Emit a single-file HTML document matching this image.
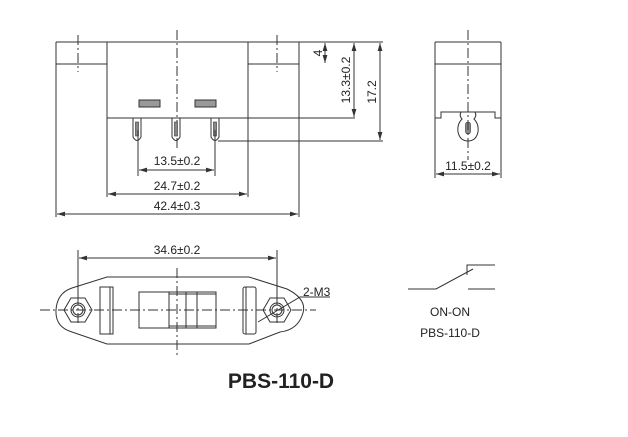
<!DOCTYPE html>
<html><head><style>html,body{margin:0;padding:0;background:#fff}svg{display:block}text{font-family:"Liberation Sans",Arial,sans-serif;fill:#222}</style></head><body>
<svg width="628" height="437" viewBox="0 0 628 437" xmlns="http://www.w3.org/2000/svg">
<defs>
<marker id="a" viewBox="0 0 10 6" refX="10" refY="3" markerWidth="8" markerHeight="5" orient="auto-start-reverse"><path d="M0,0L10,3L0,6z" fill="#333"/></marker>
</defs>
<g stroke="#333" stroke-width="1" fill="none">
<path d="M56,42H299M56,42V217M299,42V217M56,64H107M248,64H299M107,42V197M248,42V197M107,118H355"/>
<path d="M299,42H383M218,141H383"/>
<g stroke-dasharray="10,3,2,3"><path d="M177,30V150M78,35V72M277,35V72"/></g>
<rect x="139" y="100" width="21" height="7" fill="#999"/>
<rect x="195" y="100" width="21" height="7" fill="#999"/>
<g>
<path d="M133,118V137Q137,144 141,137V118"/><rect x="135.5" y="122" width="3" height="14" fill="#888" stroke-width="0.6"/>
<path d="M172,118V137Q176,144 180,137V118"/><rect x="174.5" y="122" width="3" height="14" fill="#888" stroke-width="0.6"/>
<path d="M211,118V137Q215,144 219,137V118"/><rect x="213.5" y="122" width="3" height="14" fill="#888" stroke-width="0.6"/>
</g>
<path d="M138,130V176M215,130V176"/>
<path d="M139,170H214" marker-start="url(#a)" marker-end="url(#a)"/>
<path d="M108,194H247" marker-start="url(#a)" marker-end="url(#a)"/>
<path d="M57,214H298" marker-start="url(#a)" marker-end="url(#a)"/>
<path d="M325,43V63" marker-start="url(#a)" marker-end="url(#a)"/>
<path d="M354,43V117" marker-start="url(#a)" marker-end="url(#a)"/>
<path d="M380,43V140" marker-start="url(#a)" marker-end="url(#a)"/>
<path d="M435,42H501M435,42V178M501,42V178M435,64H501M435,118H441V112H495V118H501"/>
<path d="M461,112Q459,116 462,119Q457,124 458,132Q460,141 468,141Q476,141 478,132Q479,124 474,119Q477,116 475,112"/>
<rect x="465.5" y="122" width="5" height="12" rx="2.5" fill="#888" stroke-width="0.6"/>
<path d="M468,30V160" stroke-dasharray="10,3,2,3"/>
<path d="M436,174H500" marker-start="url(#a)" marker-end="url(#a)"/>
<path d="M78,250V300M277,250V300"/>
<path d="M79,258H276" marker-start="url(#a)" marker-end="url(#a)"/>
<path d="M107,277H249L287,289Q307,299 303,313Q298,330 280,332L249,344H107L72,332Q55,327 56,310Q57,293 72,288Z"/>
<polygon points="92,310 85,322 71,322 64,310 71,298 85,298"/>
<circle cx="78" cy="310" r="7"/><circle cx="78" cy="310" r="5"/>
<polygon points="291,310 284,322 270,322 263,310 270,298 284,298"/>
<circle cx="277" cy="310" r="7"/><circle cx="277" cy="310" r="5"/>
<rect x="100" y="287" width="13" height="47"/><path d="M110,287V334"/>
<rect x="243" y="287" width="13" height="47" rx="2"/><path d="M246,287V334"/>
<rect x="139" y="292" width="77" height="36"/>
<path d="M169,292V328M186,292V328M197,292V328M169,294H216M169,326H216"/>
<g stroke-dasharray="10,3,2,3"><path d="M40,310H316M177,268V355M78,295V325M277,295V325"/></g>
<path d="M258,322L300,297H330"/>
<path d="M408,289H436L473,269M467,275V265H495M468,289H495"/>
</g>
<g font-size="12">
<text x="177" y="165" text-anchor="middle">13.5±0.2</text>
<text x="177" y="190" text-anchor="middle">24.7±0.2</text>
<text x="177" y="210" text-anchor="middle">42.4±0.3</text>
<text x="468" y="170" text-anchor="middle">11.5±0.2</text>
<text x="177" y="254" text-anchor="middle">34.6±0.2</text>
<text x="303" y="296">2-M3</text>
<text transform="translate(322,53) rotate(-90)" text-anchor="middle">4</text>
<text transform="translate(350,80) rotate(-90)" text-anchor="middle">13.3±0.2</text>
<text transform="translate(376,92) rotate(-90)" text-anchor="middle">17.2</text>
<text x="450" y="316" text-anchor="middle">ON-ON</text>
<text x="450" y="337" text-anchor="middle">PBS-110-D</text>
</g>
<text x="281" y="388" text-anchor="middle" font-size="21" font-weight="bold">PBS-110-D</text>
</svg>
</body></html>
